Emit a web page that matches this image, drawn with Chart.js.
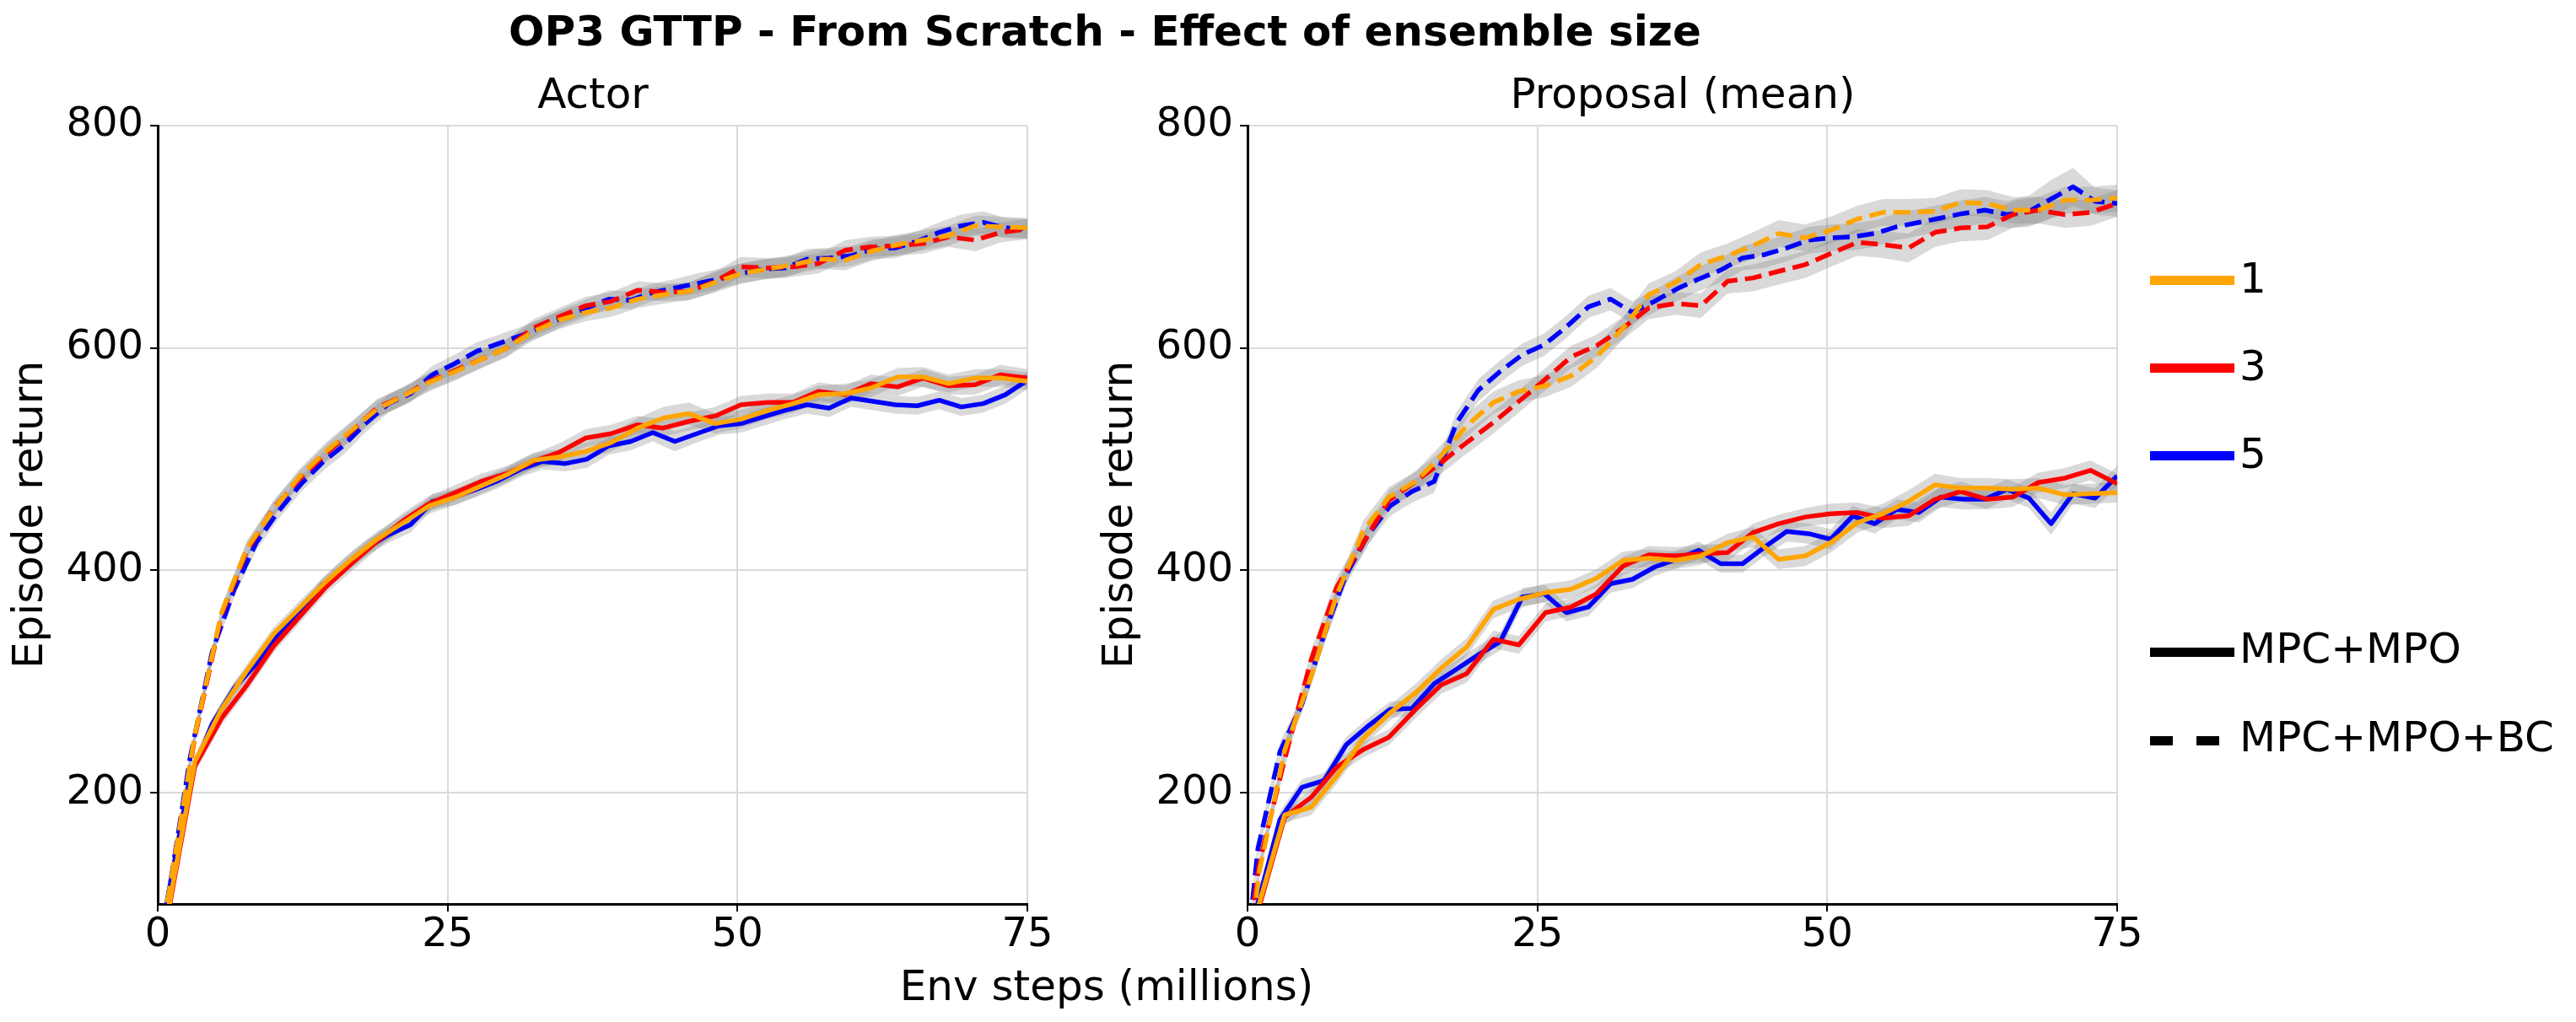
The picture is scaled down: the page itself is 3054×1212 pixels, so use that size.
<!DOCTYPE html>
<html>
<head>
<meta charset="utf-8">
<title>OP3 GTTP - From Scratch - Effect of ensemble size</title>
<script src="https://cdn.jsdelivr.net/npm/chart.js@4.4.1/dist/chart.umd.min.js"></script>
<style>
  html, body { margin: 0; padding: 0; background: #fff; }
  #fig { position: relative; width: 3054px; height: 1212px; overflow: hidden; font-family: "DejaVu Sans", sans-serif; color: #000; }
  #fig canvas { position: absolute; top: 0; }
  .txt { position: absolute; font-size: 50px; line-height: 50px; white-space: nowrap; }
  .mid { transform: translateX(-50%); }
  .swatch { position: absolute; left: 2549px; width: 100px; height: 11px; }
  .dash { position: absolute; width: 27px; height: 11px; background: #000; }
</style>
</head>
<body>
<div id="fig">
  <div class="txt mid" style="left:1310px;top:12px;font-weight:bold;">OP3 GTTP - From Scratch - Effect of ensemble size</div>
  <div class="txt mid" style="left:703px;top:86px;">Actor</div>
  <div class="txt mid" style="left:1995px;top:86px;">Proposal (mean)</div>
  <canvas id="actor" width="1278" height="1212" style="left:0px"></canvas>
  <canvas id="proposal" width="1278" height="1212" style="left:1292px"></canvas>
  <div class="txt mid" style="left:1312px;top:1144px;">Env steps (millions)</div>
  <div id="legend"></div>
</div>
<script>
// tick labels
const xTicks = [0, 25, 50, 75];
const yTicks = [200, 400, 600, 800];

// legend entries
const ensembleSizes = ['1', '3', '5'];
const sizeColors = ['#ffa500', '#ff0000', '#0000ff'];
const methods = ['MPC+MPO', 'MPC+MPO+BC'];

// env steps (millions) of the evaluations: size 1 and 3 runs share one grid, size 5 another
const stepsA = [0, 1.0, 3.2, 5.5, 7.7, 10.0, 12.2, 14.5, 16.7, 18.9, 21.2, 23.4, 25.7, 27.9, 30.1, 32.4, 34.6, 36.9,
  39.1, 41.4, 43.6, 45.8, 48.1, 50.3, 52.6, 54.8, 57.0, 59.3, 61.5, 63.8, 66.0, 68.2, 70.5, 72.7, 75.0];
const stepsB = [0, 0.9, 2.8, 4.7, 6.6, 8.5, 10.4, 12.3, 14.2, 16.1, 18.0, 19.9, 21.8, 23.7, 25.6, 27.5, 29.4, 31.3, 33.2,
  35.1, 37.0, 38.9, 40.8, 42.7, 44.6, 46.5, 48.4, 50.3, 52.2, 54.1, 56.0, 57.9, 59.8, 61.7, 63.6, 65.5, 67.4, 69.3, 71.2, 73.1, 75.0];

// Actor - MPC+MPO
const actorMpo1 = [40, 100, 228, 275, 310, 343, 366, 390, 410, 428, 443, 458, 466, 476, 486, 499, 502, 507, 515, 528,
  537, 541, 532, 536, 544, 550, 558, 559, 564, 574, 574, 568, 573, 573, 570];
const actorMpo3 = [30, 97, 224, 267, 297, 332, 358, 385, 406, 426, 445, 460, 470, 480, 487, 498, 506, 519, 523, 531,
  528, 534, 539, 549, 551, 551, 561, 558, 568, 565, 573, 566, 567, 576, 573];
const actorMpo5 = [55, 108, 214, 262, 294, 316, 343, 364, 387, 404, 420, 432, 441, 462, 466, 473, 481, 491, 498, 496,
  500, 512, 516, 524, 516, 523, 530, 532, 538, 544, 549, 546, 555, 552, 549, 548, 553, 547, 550, 558, 571];
// Actor - MPC+MPO+BC
const actorBc1 = [58, 112, 252, 362, 420, 455, 484, 507, 526, 545, 557, 569, 579, 590, 600, 615, 625, 632, 636, 644,
  648, 651, 659, 667, 671, 675, 680, 679, 687, 693, 697, 701, 710, 709, 708];
const actorBc3 = [58, 110, 250, 360, 418, 456, 482, 505, 525, 546, 557, 570, 580, 590, 600, 618, 628, 638, 642, 652,
  650, 651, 660, 673, 672, 673, 676, 688, 691, 692, 694, 700, 697, 704, 707];
const actorBc5 = [55, 106, 232, 327, 383, 425, 453, 477, 497, 513, 533, 550, 559, 576, 586, 597, 604, 611, 619, 628,
  636, 644, 643, 650, 654, 658, 662, 667, 671, 672, 680, 681, 683, 689, 690, 696, 704, 710, 713, 708, 707];

// Proposal (mean) - MPC+MPO
const propMpo1 = [30, 100, 180, 187, 215, 249, 271, 290, 312, 331, 365, 374, 380, 383, 393, 409, 411, 409, 413, 425,
  430, 410, 413, 425, 443, 451, 462, 477, 474, 474, 473, 474, 468, 469, 470];
const propMpo3 = [30, 97, 178, 196, 223, 239, 250, 275, 297, 307, 338, 333, 362, 367, 379, 404, 414, 413, 415, 416,
  434, 442, 448, 451, 452, 447, 449, 464, 471, 464, 466, 479, 483, 490, 478];
const propMpo5 = [30, 101, 176, 205, 211, 243, 260, 275, 276, 298, 311, 324, 336, 376, 379, 362, 367, 388, 392, 403,
  410, 418, 406, 406, 421, 435, 433, 428, 449, 442, 455, 452, 466, 464, 464, 473, 465, 442, 469, 465, 485];
// Proposal (mean) - MPC+MPO+BC
const propBc1 = [40, 128, 238, 305, 378, 436, 466, 480, 503, 530, 551, 561, 566, 575, 592, 618, 648, 659, 675, 683,
  692, 703, 699, 706, 716, 722, 722, 723, 731, 730, 724, 724, 733, 733, 735];
const propBc3 = [60, 136, 230, 320, 385, 425, 463, 480, 497, 515, 533, 552, 572, 592, 602, 618, 636, 640, 638, 660,
  663, 669, 675, 685, 695, 693, 690, 704, 708, 709, 720, 724, 720, 722, 730];
const propBc5 = [60, 150, 237, 280, 342, 396, 432, 458, 471, 480, 532, 562, 579, 594, 603, 619, 637, 644, 632, 642,
  653, 662, 670, 681, 684, 690, 697, 699, 700, 703, 709, 713, 717, 721, 724, 720, 723, 734, 745, 732, 730];

// half-width of the grey bands
const actorMpo1Sd = [6, 6, 6, 6, 6, 6, 6, 6, 7, 7, 7, 7, 7, 7, 7, 7, 7, 8, 8, 9, 10, 10, 9, 8, 8, 8, 8, 9, 8, 8, 9, 8, 8, 8, 8];
const actorMpo3Sd = [6, 6, 6, 6, 6, 6, 6, 6, 7, 7, 7, 7, 7, 7, 7, 7, 8, 8, 8, 8, 8, 8, 8, 8, 8, 8, 8, 8, 8, 8, 8, 8, 9, 9, 8];
const actorMpo5Sd = [6, 6, 6, 6, 6, 6, 6, 6, 6, 7, 7, 7, 7, 7, 7, 7, 7, 7, 7, 7, 8, 8, 8, 8, 9, 8, 8, 8, 8, 8, 8, 8, 8, 8, 8, 8, 8, 8, 8, 8, 8];
const actorBc1Sd = [6, 6, 6, 6, 7, 7, 7, 8, 8, 8, 8, 8, 8, 8, 8, 8, 8, 8, 8, 8, 8, 8, 9, 9, 9, 9, 9, 9, 9, 9, 9, 9, 9, 9, 9];
const actorBc3Sd = [6, 6, 6, 6, 7, 7, 7, 8, 8, 8, 8, 8, 8, 8, 8, 8, 8, 8, 8, 8, 8, 8, 9, 9, 9, 9, 9, 9, 9, 9, 9, 9, 10, 9, 9];
const actorBc5Sd = [6, 6, 6, 6, 7, 7, 7, 7, 8, 8, 8, 8, 8, 8, 8, 8, 8, 8, 8, 8, 8, 8, 8, 8, 8, 9, 9, 9, 9, 9, 9, 9, 9, 9, 9, 9, 9, 10, 10, 9, 9];
const propMpo1Sd = [6, 6, 7, 7, 7, 7, 7, 8, 8, 8, 8, 8, 8, 8, 8, 8, 8, 8, 8, 8, 9, 9, 9, 9, 9, 9, 10, 10, 9, 9, 9, 9, 9, 9, 9];
const propMpo3Sd = [6, 6, 7, 7, 7, 7, 7, 8, 8, 8, 8, 8, 8, 8, 8, 8, 8, 8, 8, 8, 8, 8, 8, 9, 9, 9, 9, 9, 9, 9, 9, 9, 9, 9, 9];
const propMpo5Sd = [6, 6, 7, 7, 7, 7, 7, 7, 8, 8, 8, 8, 8, 8, 8, 8, 8, 8, 8, 8, 8, 8, 8, 8, 8, 9, 9, 9, 9, 9, 9, 9, 9, 9, 9, 9, 9, 10, 9, 9, 9];
const propBc1Sd = [7, 7, 8, 8, 9, 9, 9, 9, 10, 10, 10, 10, 10, 10, 10, 10, 10, 10, 11, 11, 12, 12, 12, 12, 12, 12, 12, 12, 12, 12, 12, 12, 12, 12, 12];
const propBc3Sd = [7, 7, 8, 8, 9, 9, 9, 9, 10, 10, 10, 10, 10, 10, 10, 10, 10, 10, 11, 11, 12, 12, 12, 12, 12, 12, 13, 13, 12, 12, 12, 12, 12, 12, 12];
const propBc5Sd = [7, 7, 8, 8, 9, 9, 9, 9, 10, 10, 10, 10, 10, 10, 10, 10, 10, 10, 10, 10, 11, 11, 11, 11, 12, 12, 12, 12, 12, 12, 12, 12, 12, 12, 12, 12, 14, 17, 17, 12, 12];

const FONT = 'DejaVu Sans';
const BAND = 'rgba(128,128,128,0.3)';
const GRID = '#dadada';

function points(steps, vals) {
  return steps.map((x, i) => ({ x: x, y: vals[i] }));
}

function makeChart(id, series) {
  const datasets = [];
  // curves first so they sit above the bands
  series.forEach(s => {
    datasets.push({
      data: points(s.steps, s.mean),
      borderColor: sizeColors[s.size],
      borderWidth: 5.5,
      borderDash: s.bc ? [20, 9] : [],
      borderJoinStyle: 'round',
      pointRadius: 0,
      fill: false,
      order: s.size + 1
    });
  });
  series.forEach(s => {
    datasets.push({
      data: points(s.steps, s.mean.map((v, i) => v + s.sd[i])),
      borderWidth: 0, borderColor: 'rgba(0,0,0,0)', pointRadius: 0,
      backgroundColor: BAND, fill: '+1', order: 10
    });
    datasets.push({
      data: points(s.steps, s.mean.map((v, i) => v - s.sd[i])),
      borderWidth: 0, borderColor: 'rgba(0,0,0,0)', pointRadius: 0,
      fill: false, order: 10
    });
  });

  const tickFont = { family: FONT, size: 48 };
  const grid = { color: GRID, lineWidth: 2, tickLength: 9, tickColor: '#000', tickWidth: 2 };
  const border = { color: '#000', width: 3 };

  return new Chart(document.getElementById(id), {
    type: 'line',
    data: { datasets: datasets },
    options: {
      responsive: false,
      animation: false,
      devicePixelRatio: 1,
      layout: { padding: { top: 149, right: 60, bottom: 40, left: 0 } },
      plugins: { legend: { display: false }, tooltip: { enabled: false } },
      scales: {
        x: {
          type: 'linear', min: 0, max: 75,
          afterBuildTicks: sc => { sc.ticks = xTicks.map(v => ({ value: v })); },
          afterFit: sc => { sc.height = 100; },
          ticks: { font: tickFont, color: '#000', padding: 0, maxRotation: 0 },
          grid: grid, border: border
        },
        y: {
          type: 'linear', min: 100, max: 800,
          afterBuildTicks: sc => { sc.ticks = yTicks.map(v => ({ value: v })); },
          afterFit: sc => { sc.width = 187; },
          ticks: { font: tickFont, color: '#000', padding: 8 },
          grid: grid, border: border,
          title: { display: true, text: 'Episode return', color: '#000',
                   font: { family: FONT, size: 50 }, padding: { top: 7, bottom: 0 } }
        }
      }
    }
  });
}

makeChart('actor', [
  { steps: stepsA, mean: actorMpo1, sd: actorMpo1Sd, size: 0, bc: false },
  { steps: stepsA, mean: actorMpo3, sd: actorMpo3Sd, size: 1, bc: false },
  { steps: stepsB, mean: actorMpo5, sd: actorMpo5Sd, size: 2, bc: false },
  { steps: stepsA, mean: actorBc1, sd: actorBc1Sd, size: 0, bc: true },
  { steps: stepsA, mean: actorBc3, sd: actorBc3Sd, size: 1, bc: true },
  { steps: stepsB, mean: actorBc5, sd: actorBc5Sd, size: 2, bc: true }
]);

makeChart('proposal', [
  { steps: stepsA, mean: propMpo1, sd: propMpo1Sd, size: 0, bc: false },
  { steps: stepsA, mean: propMpo3, sd: propMpo3Sd, size: 1, bc: false },
  { steps: stepsB, mean: propMpo5, sd: propMpo5Sd, size: 2, bc: false },
  { steps: stepsA, mean: propBc1, sd: propBc1Sd, size: 0, bc: true },
  { steps: stepsA, mean: propBc3, sd: propBc3Sd, size: 1, bc: true },
  { steps: stepsB, mean: propBc5, sd: propBc5Sd, size: 2, bc: true }
]);

// legend on the right
const legend = document.getElementById('legend');
const sizeRows = [332, 436, 540];
const methodRows = [773, 878];
let html = '';
ensembleSizes.forEach((lab, i) => {
  html += '<div class="swatch" style="top:' + (sizeRows[i] - 5.5) + 'px;background:' + sizeColors[i] + '"></div>';
  html += '<div class="txt" style="left:2655px;top:' + (sizeRows[i] - 27) + 'px">' + lab + '</div>';
});
methods.forEach((lab, i) => {
  const top = methodRows[i] - 5.5;
  if (i === 0) {
    html += '<div class="swatch" style="top:' + top + 'px;background:#000"></div>';
  } else {
    html += '<div class="dash" style="left:2549px;top:' + top + 'px"></div>';
    html += '<div class="dash" style="left:2604px;top:' + top + 'px"></div>';
  }
  html += '<div class="txt" style="left:2655px;top:' + (methodRows[i] - 29) + 'px">' + lab + '</div>';
});
legend.innerHTML = html;
</script>
</body>
</html>
